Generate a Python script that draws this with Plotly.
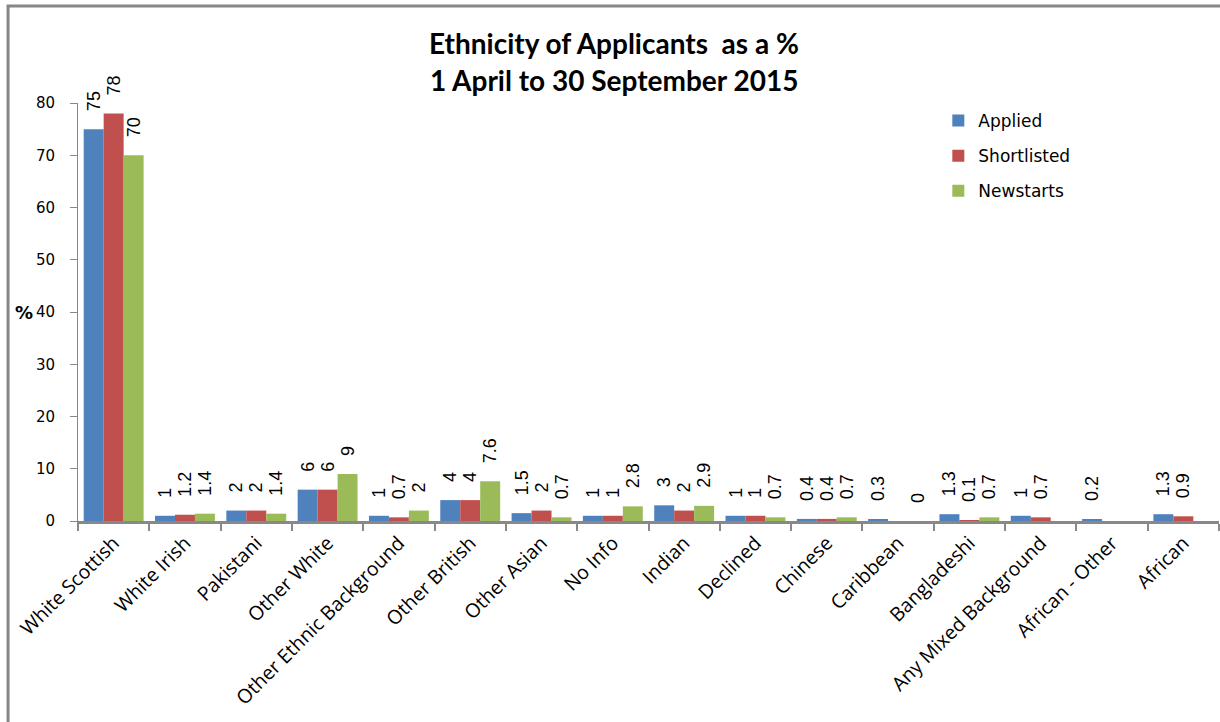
import plotly.graph_objects as go

categories = ["White Scottish", "White Irish", "Pakistani", "Other White",
              "Other Ethnic Background", "Other British", "Other Asian", "No Info",
              "Indian", "Declined", "Chinese", "Caribbean", "Bangladeshi",
              "Any Mixed Background", "African - Other", "African"]
applied = [75, 1, 2, 6, 1, 4, 1.5, 1, 3, 1, 0.4, 0.3, 1.3, 1, 0.2, 1.3]
shortlisted = [78, 1.2, 2, 6, 0.7, 4, 2, 1, 2, 1, 0.4, None, 0.1, 0.7, None, 0.9]
newstarts = [70, 1.4, 1.4, 9, 2, 7.6, 0.7, 2.8, 2.9, 0.7, 0.7, 0, 0.7, None, None, None]
series_names = ["Applied", "Shortlisted", "Newstarts"]
series_colors = ["#4F81BD", "#C0504D", "#9BBB59"]
y_ticks = [0, 10, 20, 30, 40, 50, 60, 70, 80]

NBSP = "\u00a0"


def labels(vals):
    return [(NBSP * 3 + f"{v:g}") if v is not None else "" for v in vals]


fig = go.Figure()
for i, (name, vals, col) in enumerate(zip(series_names, [applied, shortlisted, newstarts], series_colors)):
    fig.add_trace(go.Bar(
        x=categories, y=vals, name=name, marker_color=col, marker_line_width=0,
        text=labels(vals), textposition="outside", textangle=-90,
        constraintext="none", cliponaxis=False,
        textfont=dict(family="Liberation Sans", size=18, color="#000000"),
        legendgroup=name,
    ))

fig.update_layout(
    width=1220, height=722,
    margin=dict(l=78, r=1, t=103, b=201),
    paper_bgcolor="white", plot_bgcolor="white",
    barmode="group", bargap=0.16, bargroupgap=0,
    showlegend=True,
    legend=dict(x=0.754, y=1.0, xanchor="left", yanchor="top",
                font=dict(family="DejaVu Sans", size=17, color="#000000"),
                tracegroupgap=10, bgcolor="rgba(0,0,0,0)", itemwidth=30),
    xaxis=dict(showline=True, linecolor="#888888", linewidth=3,
               ticks="outside", tickson="boundaries", ticklen=7, tickcolor="#888888", tickwidth=2,
               tickangle=-45, automargin=False,
               tickfont=dict(family="Open Sans", size=19.5, color="#000000")),
    yaxis=dict(range=[0, 80], tickvals=y_ticks, showline=True, linecolor="#888888", linewidth=1,
               ticks="outside", ticklen=7, tickcolor="#888888", showgrid=False, zeroline=False,
               automargin=False, ticklabelstandoff=12,
               tickfont=dict(family="DejaVu Sans", size=15, color="#000000")),
    annotations=[
        dict(text="Ethnicity of Applicants  as a %", xref="paper", yref="paper", x=0.4698, y=1.1435,
             showarrow=False, xanchor="center", yanchor="middle",
             font=dict(family="Lato", size=28, color="#000000", weight="bold")),
        dict(text="1 April to 30 September 2015", xref="paper", yref="paper", x=0.4698, y=1.055,
             showarrow=False, xanchor="center", yanchor="middle",
             font=dict(family="Lato", size=28, color="#000000", weight="bold")),
        dict(text="%", xref="paper", yref="paper", x=-0.0473, y=0.5,
             showarrow=False, xanchor="center", yanchor="middle",
             font=dict(family="DejaVu Sans", size=18, color="#000000", weight="bold")),
    ],
    shapes=[dict(type="rect", xref="paper", yref="paper", x0=-0.0613, x1=2, y0=-2, y1=1.232,
                 line=dict(color="#868686", width=3), fillcolor="rgba(0,0,0,0)", layer="above")],
)

fig.write_html("out.html")
